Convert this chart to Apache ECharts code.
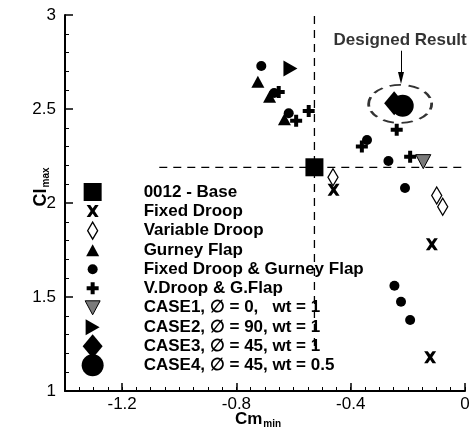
<!DOCTYPE html>
<html>
<head>
<meta charset="utf-8">
<script src="https://cdn.jsdelivr.net/npm/echarts@6/dist/echarts.min.js"></script>
<style>
  html, body { margin: 0; padding: 0; background: #fff; }
  #chart { width: 472px; height: 437px; }
</style>
</head>
<body>
<div id="chart"></div>
<script>
// [Cm_min, Cl_max] per configuration
const base0012 = [[-0.527, 2.19]]
const fixedDroop = [[-0.46, 2.07], [-0.116, 1.78], [-0.122, 1.18]]
const variableDroop = [[-0.462, 2.137], [-0.099, 2.04], [-0.078, 1.98]]
const gurneyFlap = [[-0.725, 2.645], [-0.684, 2.565], [-0.632, 2.445]]
const fixedDroopGurney = [
  [-0.713, 2.729], [-0.668, 2.585], [-0.617, 2.477], [-0.343, 2.335],
  [-0.268, 2.223], [-0.21, 2.08], [-0.247, 1.56], [-0.224, 1.475], [-0.192, 1.378]
]
const vDroopGFlap = [
  [-0.652, 2.59], [-0.591, 2.438], [-0.547, 2.49], [-0.361, 2.30],
  [-0.239, 2.39], [-0.192, 2.246]
]
const case1 = [[-0.146, 2.22]]
const case2 = [[-0.611, 2.716]]
const case3 = [[-0.248, 2.53]]
const case4 = [[-0.218, 2.517]]

const seriesNames = [
  '0012 - Base', 'Fixed Droop', 'Variable Droop', 'Gurney Flap',
  'Fixed Droop & Gurney Flap', 'V.Droop & G.Flap',
  'CASE1, ∅ = 0,   wt = 1', 'CASE2, ∅ = 90, wt = 1',
  'CASE3, ∅ = 45, wt = 1', 'CASE4, ∅ = 45, wt = 0.5'
]
const seriesData = [base0012, fixedDroop, variableDroop, gurneyFlap, fixedDroopGurney,
  vDroopGFlap, case1, case2, case3, case4]

// reference lines (base design)
const baseCmLine = [[-0.527, 1.24], [-0.527, 3]]
const baseClLine = [[-1.07, 2.19], [0, 2.19]]

// "Designed Result" callout
const designText = 'Designed Result'
const designTextAt = [-0.227, 2.867]
const designArrow = [[-0.224, 2.81], [-0.224, 2.665]]
const designRing = [[-0.227, 2.527]]

const xRange = [-1.4, 0]
const yRange = [1, 3]
const xTickLabels = [-1.2, -0.8, -0.4, 0]

// marker shapes, all in a 24x24 box so the size is kept
const box = 'path://M0,0 M24,24 '
const shapes = [
  box + 'M3,3 H21 V21 H3 Z',
  box + 'M6,6 H9.6 L12,9.4 L14.4,6 H18 L14,12 L18,18 H14.4 L12,14.6 L9.6,18 H6 L10,12 Z',
  box + 'M12,3.5 L17,12 L12,20.5 L7,12 Z',
  box + 'M12,6 L18.5,18 L5.5,18 Z',
  box + 'M17,12 A5,5 0 1 1 7,12 A5,5 0 1 1 17,12 Z',
  box + 'M10,6 H14 V10 H18 V14 H14 V18 H10 V14 H6 V10 H10 Z',
  box + 'M4.5,5 H19.5 L12,19 Z',
  box + 'M5,4 L19,12 L5,20 Z',
  box + 'M12,0 L22,12 L12,24 L2,12 Z',
  box + 'M23,12 A11,11 0 1 1 1,12 A11,11 0 1 1 23,12 Z'
]
const fills = ['#000', '#000', '#fff', '#000', '#000', '#000', '#7a7a7a', '#000', '#000', '#000']
const borders = [0, 0, 1.3, 0, 0, 0, 1, 0, 0, 0]

const chart = echarts.init(document.getElementById('chart'))

const font = 'Liberation Sans, Arial, sans-serif'

const markerSeries = seriesNames.map((name, i) => ({
  name: name,
  type: 'scatter',
  data: seriesData[i],
  symbol: shapes[i],
  symbolSize: 24,
  itemStyle: { color: fills[i], borderColor: '#000', borderWidth: borders[i], opacity: 1 },
  z: 5 + i
}))

const option = {
  animation: false,
  backgroundColor: '#fff',
  grid: { left: 65, right: 7, top: 15, bottom: 46, outerBoundsMode: 'none' },
  xAxis: [
    {
      type: 'value',
      position: 'bottom',
      min: xRange[0],
      max: xRange[1],
      interval: 0.05,
      axisLine: { show: true, onZero: false, lineStyle: { color: '#000', width: 2 } },
      axisTick: { show: true, inside: true, length: 4, lineStyle: { color: '#000', width: 1 } },
      axisLabel: { show: false },
      splitLine: { show: false }
    },
    {
      type: 'value',
      position: 'bottom',
      min: xRange[0],
      max: xRange[1],
      axisLine: { show: false, onZero: false },
      axisTick: { show: true, inside: true, length: 8, customValues: xTickLabels, lineStyle: { color: '#000', width: 1.5 } },
      axisLabel: { customValues: xTickLabels, color: '#000', fontFamily: font, fontSize: 17, margin: 5 },
      splitLine: { show: false },
      name: '{a|Cm}{b|min}',
      nameLocation: 'middle',
      nameMoveOverlap: false,
      nameGap: 19,
      nameTextStyle: {
        padding: [0, 14, 0, 0],
        rich: {
          a: { fontFamily: font, fontWeight: 'bold', fontSize: 17, color: '#000' },
          b: { fontFamily: font, fontWeight: 'bold', fontSize: 10, color: '#000', padding: [9, 0, 0, 1] }
        }
      }
    }
  ],
  yAxis: {
    type: 'value',
    min: yRange[0],
    max: yRange[1],
    interval: 0.5,
    axisLine: { show: true, onZero: false, lineStyle: { color: '#000', width: 2 } },
    axisTick: { show: true, inside: true, length: 8, lineStyle: { color: '#000', width: 1.5 } },
    minorTick: { show: true, splitNumber: 5, length: 4, lineStyle: { color: '#000', width: 1 } },
    axisLabel: { color: '#000', fontFamily: font, fontSize: 17, margin: 9 },
    splitLine: { show: false },
    name: '{a|Cl}{b|max}',
    nameLocation: 'middle',
    nameMoveOverlap: false,
    nameRotate: 90,
    nameGap: 14,
    nameTextStyle: {
      padding: [0, 0, 0, 32],
      rich: {
        a: { fontFamily: font, fontWeight: 'bold', fontSize: 18, color: '#000' },
        b: { fontFamily: font, fontWeight: 'bold', fontSize: 10, color: '#000', padding: [9, 0, 0, 1] }
      }
    }
  },
  legend: {
    orient: 'vertical',
    left: 80,
    top: 180,
    padding: 0,
    itemWidth: 24,
    itemHeight: 24,
    itemGap: -5,
    selectedMode: false,
    data: seriesNames.map((name, i) => ({
      name: name,
      icon: shapes[i],
      itemStyle: { color: fills[i], borderColor: '#000', borderWidth: borders[i] }
    })),
    textStyle: {
      fontFamily: font, fontWeight: 'bold', fontSize: 17, color: '#000',
      padding: [0, 0, 0, 34]
    }
  },
  series: [
    {
      type: 'line', data: baseCmLine, symbol: 'none', silent: true, z: 1,
      lineStyle: { color: '#000', width: 1.3, type: [8, 6] }
    },
    {
      type: 'line', data: baseClLine, symbol: 'none', silent: true, z: 1,
      lineStyle: { color: '#000', width: 1.3, type: [8, 6] }
    },
    {
      type: 'scatter',
      data: designRing,
      symbol: 'path://M0,10 A10,10 0 1 1 20,10 A10,10 0 1 1 0,10 Z',
      symbolSize: [63, 38],
      silent: true,
      z: 20,
      itemStyle: { color: 'rgba(0,0,0,0)', borderColor: '#000', borderWidth: 2.2, borderType: [9, 6] }
    },
    {
      type: 'scatter',
      data: [designTextAt],
      symbolSize: 0,
      silent: true,
      z: 20,
      label: {
        show: true, position: 'inside', formatter: designText,
        fontFamily: font, fontWeight: 'bold', fontSize: 17, color: '#000'
      },
      markLine: {
        silent: true,
        symbol: ['none', 'path://M0,0 M12,12 M6,0 L9,12 L3,12 Z'],
        symbolSize: 12,
        label: { show: false },
        lineStyle: { color: '#000', width: 1, type: 'solid' },
        data: [[{ coord: designArrow[0] }, { coord: designArrow[1] }]]
      }
    }
  ].concat(markerSeries)
}

chart.setOption(option)
</script>
</body>
</html>
